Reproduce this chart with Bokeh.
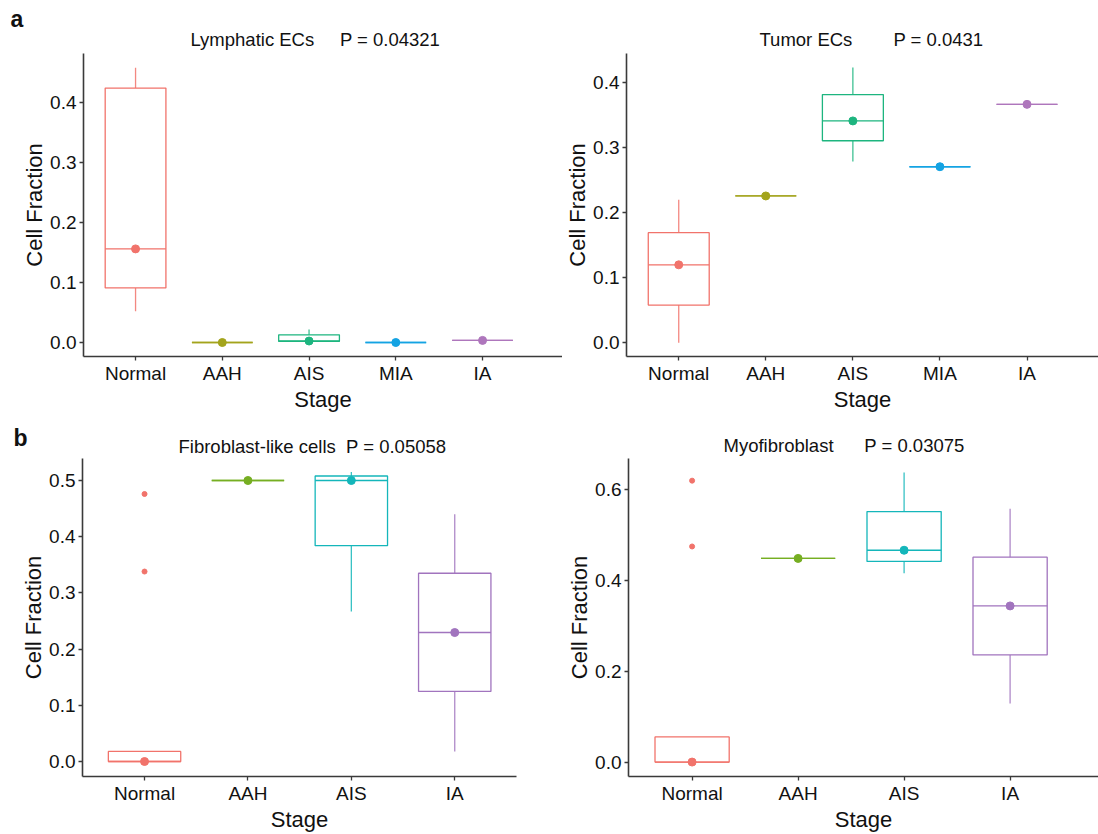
from bokeh.plotting import figure
from bokeh.layouts import column, row
from bokeh.models import Label, FixedTicker, PrintfTickFormatter, Range1d, Title
from bokeh.embed import file_html
from bokeh.resources import INLINE

# ---------------- data ----------------
stages5 = ["Normal", "AAH", "AIS", "MIA", "IA"]
stages4 = ["Normal", "AAH", "AIS", "IA"]

colors5 = ["#F1736B", "#A3A41C", "#1DB57F", "#14A3E3", "#AE76BC"]
colors4 = ["#F1736B", "#76AE22", "#14B6BA", "#A174BE"]

# Lymphatic ECs
lymph_lo = [0.052, 0.0, 0.0018, 0.0, 0.0035]
lymph_q1 = [0.091, 0.0, 0.0018, 0.0, 0.0035]
lymph_med = [0.156, 0.0, 0.0025, 0.0, 0.0035]
lymph_q3 = [0.424, 0.0, 0.0128, 0.0, 0.0035]
lymph_hi = [0.458, 0.0, 0.0217, 0.0, 0.0035]
lymph_name = "Lymphatic ECs"
lymph_p = "P = 0.04321"

# Tumor ECs
tumor_lo = [0.0, 0.226, 0.279, 0.271, 0.367]
tumor_q1 = [0.058, 0.226, 0.311, 0.271, 0.367]
tumor_med = [0.120, 0.226, 0.3415, 0.271, 0.367]
tumor_q3 = [0.1695, 0.226, 0.382, 0.271, 0.367]
tumor_hi = [0.220, 0.226, 0.4237, 0.271, 0.367]
tumor_name = "Tumor ECs"
tumor_p = "P = 0.0431"

# Fibroblast-like cells
fibro_lo = [0.0, 0.5, 0.267, 0.0178]
fibro_q1 = [0.0, 0.5, 0.384, 0.1246]
fibro_med = [0.0, 0.5, 0.5, 0.2295]
fibro_q3 = [0.018, 0.5, 0.508, 0.335]
fibro_hi = [0.018, 0.5, 0.515, 0.44]
fibro_out_stage = ["Normal", "Normal"]
fibro_out_val = [0.476, 0.338]
fibro_name = "Fibroblast-like cells"
fibro_p = "P = 0.05058"

# Myofibroblast
myo_lo = [0.0, 0.4487, 0.416, 0.129]
myo_q1 = [0.0, 0.4487, 0.442, 0.236]
myo_med = [0.0, 0.4487, 0.4667, 0.344]
myo_q3 = [0.0554, 0.4487, 0.552, 0.4515]
myo_hi = [0.0554, 0.4487, 0.638, 0.558]
myo_out_stage = ["Normal", "Normal"]
myo_out_val = [0.620, 0.475]
myo_name = "Myofibroblast"
myo_p = "P = 0.03075"

FONT = "Liberation Sans"
TXT = "#111111"
AX = "#3a3a3a"
NB = "\u00a0"


def make_panel(width, height, borders, xr, yr, yticks, stages, colors,
               lo, q1, med, q3, hi, out_stage=None, out_val=None):
    p = figure(width=width, height=height, output_backend="svg",
               toolbar_location=None, x_range=Range1d(*xr), y_range=Range1d(*yr),
               min_border_left=borders[0], min_border_right=borders[1],
               min_border_top=borders[2], min_border_bottom=borders[3])
    p.outline_line_color = None
    p.grid.visible = False
    p.background_fill_color = "white"
    p.border_fill_color = "white"
    xs = [i + 1 for i in range(len(stages))]
    # whiskers
    p.segment(xs, q3, xs, hi, line_color=colors, line_width=1.3, line_alpha=0.85)
    p.segment(xs, lo, xs, q1, line_color=colors, line_width=1.3, line_alpha=0.85)
    # boxes
    p.vbar(x=xs, width=0.7, bottom=q1, top=q3, fill_color=None,
           line_color=colors, line_width=1.3)
    # median lines
    p.vbar(x=xs, width=0.7, bottom=med, top=med, fill_color=None,
           line_color=colors, line_width=1.3)
    # median dots
    p.scatter(xs, med, size=8, fill_color=colors, line_color=colors)
    if out_stage:
        ox = [stages.index(s) + 1 for s in out_stage]
        oc = [colors[stages.index(s)] for s in out_stage]
        p.scatter(ox, out_val, size=5, fill_color=oc, line_color=oc)

    for ax in (p.xaxis[0], p.yaxis[0]):
        ax.axis_line_color = AX
        ax.axis_line_width = 1.6
        ax.major_tick_line_color = AX
        ax.major_tick_line_width = 1.3
        ax.major_tick_out = 4
        ax.major_tick_in = 0
        ax.minor_tick_line_color = None
        ax.major_label_text_font = FONT
        ax.major_label_text_font_size = "19px"
        ax.major_label_text_color = TXT
        ax.axis_label_text_font = FONT
        ax.axis_label_text_font_size = "22px"
        ax.axis_label_text_font_style = "normal"
        ax.axis_label_text_color = TXT
    p.xaxis.ticker = FixedTicker(ticks=xs)
    p.xaxis.major_label_overrides = {x: s for x, s in zip(xs, stages)}
    p.xaxis.axis_label = "Stage"
    p.xaxis.major_label_standoff = 2
    p.xaxis.axis_label_standoff = 0
    p.yaxis.ticker = FixedTicker(ticks=yticks)
    p.yaxis.formatter = PrintfTickFormatter(format="%.1f")
    p.yaxis.axis_label = "Cell Fraction"
    p.yaxis.major_label_standoff = 3
    p.yaxis.axis_label_standoff = 0
    return p


def add_title(p, name, pval, nspace, offset, standoff):
    p.title = Title(text=name + NB * nspace + pval, align="left", offset=offset,
                    standoff=standoff, text_font=FONT, text_font_size="18.5px",
                    text_font_style="normal", text_color=TXT)


def add_letter(p, sx, sy, letter):
    p.add_layout(Label(x=sx, y=sy, x_units="screen", y_units="screen", text=letter,
                       text_font=FONT, text_font_size="23px",
                       text_font_style="bold", text_color=TXT,
                       text_align="left", text_baseline="alphabetic"), "left")


def conv_factory(frame_left, px_x, zero_y, px_y, x0=0.4):
    return (lambda r: x0 + (r - frame_left) / px_x,
            lambda r: (zero_y - r) / px_y)


# panel a : Lymphatic ECs  (frame: left 83, top 53, bottom 356)
c1 = conv_factory(83, 86.75, 342, 600)
p1 = make_panel(562, 418, (83, 0, 53, 62),
                (0.4, c1[0](562)), (c1[1](356), c1[1](53)),
                [0, 0.1, 0.2, 0.3, 0.4], stages5, colors5,
                lymph_lo, lymph_q1, lymph_med, lymph_q3, lymph_hi)
add_title(p1, lymph_name, lymph_p, 5, 107, 8)
add_letter(p1, 4, 356 - 18, "a")

# panel a' : Tumor ECs  (frame: left 625, top 53, bottom 356)
c2 = conv_factory(625, 87.25, 342.3, 649)
p2 = make_panel(536, 418, (63, 0, 53, 62),
                (0.4, c2[0](1098)), (c2[1](356), c2[1](53.3)),
                [0, 0.1, 0.2, 0.3, 0.4], stages5, colors5,
                tumor_lo, tumor_q1, tumor_med, tumor_q3, tumor_hi)
add_title(p2, tumor_name, tumor_p, 8, 133, 8)

# panel b : Fibroblast-like cells  (frame: left 82, top 458, bottom 776)
c3 = conv_factory(82, 103.4, 761, 562)
p3 = make_panel(560, 416, (82, 44, 40, 58),
                (0.4, c3[0](516)), (c3[1](776), c3[1](458)),
                [0, 0.1, 0.2, 0.3, 0.4, 0.5], stages4, colors4,
                fibro_lo, fibro_q1, fibro_med, fibro_q3, fibro_hi,
                fibro_out_stage, fibro_out_val)
add_title(p3, fibro_name, fibro_p, 2, 96, 3)
add_letter(p3, 9, 776 - 437, "b")

# panel b' : Myofibroblast  (frame: left 628, top 452, bottom 776)
c4 = conv_factory(628, 106, 761.3, 462)
p4 = make_panel(538, 416, (68, 0, 34, 58),
                (0.4, c4[0](1098)), (c4[1](776), c4[1](452.3)),
                [0, 0.2, 0.4, 0.6], stages4, colors4,
                myo_lo, myo_q1, myo_med, myo_q3, myo_hi,
                myo_out_stage, myo_out_val)
add_title(p4, myo_name, myo_p, 6, 95, 5)

layout = column(row(p1, p2), row(p3, p4))
open("out.html", "w").write(file_html(layout, INLINE))
